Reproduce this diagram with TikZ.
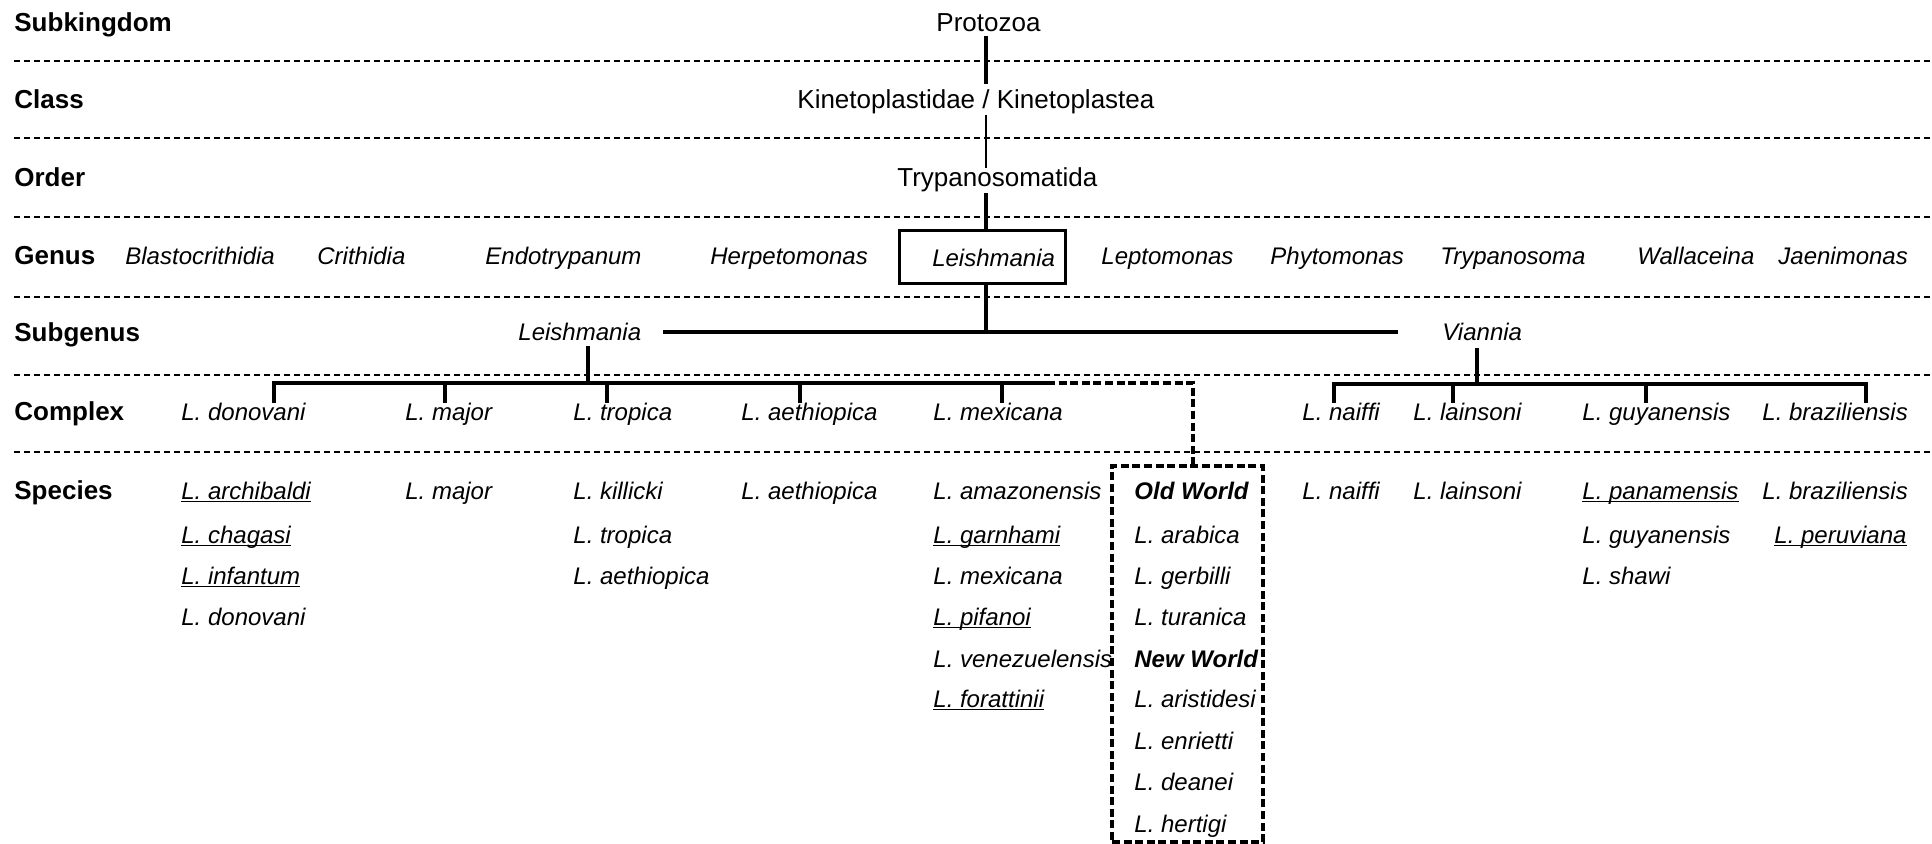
\documentclass[tikz,border=0pt]{standalone}
\usepackage{fontspec}
\setmainfont{Liberation Sans}
\newsavebox\ulbox
\newcommand{\uln}[1]{\sbox\ulbox{#1}\rlap{\rule[-1.6pt]{\wd\ulbox}{0.7pt}}\usebox\ulbox}
\tikzset{
  rank/.style={anchor=base west, inner sep=0pt, font=\fontsize{13}{15}\selectfont\bfseries},
  taxon/.style={anchor=base west, inner sep=0pt, font=\fontsize{13}{15}\selectfont},
  sp/.style={anchor=base west, inner sep=0pt, font=\fontsize{12}{14}\selectfont\itshape},
  level/.style={line width=0.6pt, dash pattern=on 3pt off 2pt},
  stem/.style={line width=1.6pt},
  bar/.style={line width=2pt},
  dbar/.style={line width=2pt, dash pattern=on 4pt off 1.8pt},
}
\begin{document}
\begin{tikzpicture}[x=0.5pt,y=-0.5pt]
        \useasboundingbox (0,0) rectangle (1932,844);

        % Rank labels and level lines
        \foreach \y/\t in {32/Subkingdom,109/Class,187/Order,265/Genus,342/Subgenus,421/Complex,499/Species}
          \node[rank] (rank-\t) at (14,\y) {\t};
        \foreach \y in {61,138,217,297,375,452}
          \draw[level] (14,\y) -- (1932,\y);

        % Upper taxa
        \node[taxon] (prot) at (936,32) {Protozoa};
        \node[taxon] (cls) at (797,109) {Kinetoplastidae / Kinetoplastea};
        \node[taxon] (ord) at (897,187) {Trypanosomatida};
        \coordinate (spine) at (986,0);

        % Genera
        \foreach \x/\g in {125/Blastocrithidia,317/Crithidia,485/Endotrypanum,710/Herpetomonas,1101/Leptomonas,1270/Phytomonas,1440/Trypanosoma,1637/Wallaceina,1778/Jaenimonas}
          \node[sp] (gen-\g) at (\x,265) {\g};
        \node[draw, line width=1.5pt, inner xsep=5pt, inner ysep=0pt, text width=73pt, align=right,
              minimum height=26.5pt, font=\fontsize{12}{14}\selectfont\itshape] (leish) at (982,257.5) {Leishmania};

        \draw[stem, shorten <=1.5pt, shorten >=3pt] (prot.south -| spine) -- (cls.north -| spine);
        \draw[line width=1pt] (cls.south -| spine) -- (ord.north -| spine);
        \draw[stem] (ord.south -| spine) -- (leish.north -| spine);

        % Subgenera
        \node[sp] (subL) at (518,341) {Leishmania};
        \node[sp] (subV) at (1442,341) {Viannia};
        \coordinate (sgL) at (663,332);
        \coordinate (sgR) at (1398,332);
        \draw[bar] (sgL) -- (sgR);
        \draw[stem] (leish.south -| spine) -- (sgL -| spine);

        % Complexes
        \node[sp] (cdon) at (181,421) {L. donovani};
        \node[sp] (cmaj) at (405,421) {L. major};
        \node[sp] (ctro) at (573,421) {L. tropica};
        \node[sp] (caet) at (741,421) {L. aethiopica};
        \node[sp] (cmex) at (933,421) {L. mexicana};
        \node[sp] (cnai) at (1302,421) {L. naiffi};
        \node[sp] (clai) at (1413,421) {L. lainsoni};
        \node[sp] (cguy) at (1582,421) {L. guyanensis};
        \node[sp] (cbra) at (1762,421) {L. braziliensis};

        \coordinate (cxL) at (274,383);
        \coordinate (cxM) at (1047,383);
        \coordinate (cxD) at (1193,383);
        \coordinate (cvL) at (1334,384);
        \coordinate (cvR) at (1866,384);

        \draw[stem, shorten <=2pt] (subL.south -| 588,0) -- (cxL -| 588,0);
        \draw[stem, shorten <=3pt] (subV.south -| 1477,0) -- (cvL -| 1477,0);
        \draw[bar] (cdon.north -| cxL) -- (cxL) -- (cxM);
        \foreach \x/\n in {445/cmaj,607/ctro,800/caet,1002/cmex}
          \draw[bar] (\x,383) -- (\n.north -| \x,0);
        \draw[bar] (cnai.north -| cvL) -- (cvL) -- (cvR) -- (cbra.north -| cvR);
        \foreach \x/\n in {1453/clai,1646/cguy}
          \draw[bar] (\x,384) -- (\n.north -| \x,0);

        % Species
        \foreach \y/\t [count=\i] in {499/{\uln{L. archibaldi}},543/{\uln{L. chagasi}},584/{\uln{L. infantum}},625/L. donovani}
          \node[sp] (sdon-\i) at (181,\y) {\t};
        \node[sp] (smaj) at (405,499) {L. major};
        \foreach \y/\t [count=\i] in {499/L. killicki,543/L. tropica,584/L. aethiopica}
          \node[sp] (stro-\i) at (573,\y) {\t};
        \node[sp] (saet) at (741,499) {L. aethiopica};
        \foreach \y/\t [count=\i] in {499/L. amazonensis,543/{\uln{L. garnhami}},584/L. mexicana,625/{\uln{L. pifanoi}},667/L. venezuelensis,707/{\uln{L. forattinii}}}
          \node[sp] (smex-\i) at (933,\y) {\t};

        % Old World / New World group
        \node[draw, line width=1.6pt, dash pattern=on 4pt off 1.8pt, minimum width=75.5pt, minimum height=188pt, inner sep=0pt] (owbox) at (1187.5,654) {};
        \draw[dbar] (cxM) -- (cxD) -- (owbox.north -| cxD);
        \foreach \y/\t [count=\i] in {499/{\bfseries Old World},543/L. arabica,584/L. gerbilli,625/L. turanica,667/{\bfseries New World},707/L. aristidesi,749/L. enrietti,790/L. deanei,832/L. hertigi}
          \node[sp] (sow-\i) at (1134,\y) {\t};

        \node[sp] (snai) at (1302,499) {L. naiffi};
        \node[sp] (slai) at (1413,499) {L. lainsoni};
        \foreach \y/\t [count=\i] in {499/{\uln{L. panamensis}},543/L. guyanensis,584/L. shawi}
          \node[sp] (sguy-\i) at (1582,\y) {\t};
        \node[sp] (sbra) at (1762,499) {L. braziliensis};
        \node[sp] (sper) at (1774,543) {\uln{L. peruviana}};
    \end{tikzpicture}
\end{document}
